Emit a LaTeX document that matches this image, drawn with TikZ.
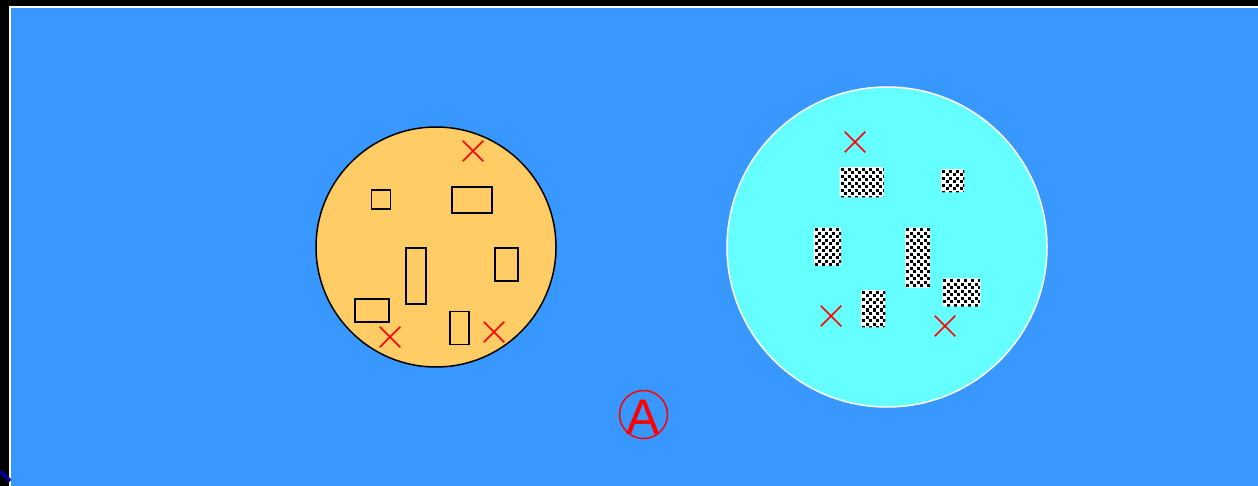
\documentclass[tikz,border=0pt]{standalone}
\usepackage{fontspec}
\setmainfont{Liberation Sans}
\usetikzlibrary{shapes.misc,calc}
\definecolor{bgblue}{HTML}{3898FF}
\definecolor{orng}{HTML}{FFCC66}
\definecolor{cyanf}{HTML}{66FFFF}
\tikzset{
  blk/.style={draw=black, line width=1.8pt, inner sep=0pt, anchor=north west},
  dotbox/.style={fill=white, inner sep=0pt, anchor=north west, rounded corners=2pt},
  xmk/.style={cross out, draw=red, line width=1.5pt, minimum size=19pt, inner sep=0pt},
}
\newcommand{\mydots}[1]{%
  \begin{scope}
  \clip[rounded corners=2pt] (#1.north west) rectangle (#1.south east);
  \foreach \i in {0,...,9}{\foreach \j in {0,...,10}{
    \fill[black] ($(#1.north west)+(\i*7+1,\j*7+1)$) rectangle +(3,3);
    \fill[black] ($(#1.north west)+(\i*7+4.5,\j*7+4.5)$) rectangle +(3,3);
  }}
  \end{scope}}
\begin{document}
\begin{tikzpicture}[x=1pt,y=-1pt]
\useasboundingbox (0,0) rectangle (1258,486);
\fill[black] (0,0) rectangle (1258,486);
\fill[white] (9,6) rectangle (1258,486);
\fill[bgblue] (11,8) rectangle (1258,486);
\draw[blue!55!black, line width=4pt] (0,471) -- (10,481);
% orange circle
\node[circle, draw=black, line width=1.5pt, fill=orng, minimum size=240pt, inner sep=0pt] (oc) at (436,247) {};
\node[blk, minimum width=19pt, minimum height=19pt] (o1) at (370.5,189.5) {};
\node[blk, minimum width=40pt, minimum height=26pt] (o2) at (451,186) {};
\node[blk, minimum width=20pt, minimum height=56pt] (o3) at (405,247.5) {};
\node[blk, minimum width=23pt, minimum height=33pt] (o4) at (494,247.5) {};
\node[blk, minimum width=34pt, minimum height=23pt] (o5) at (354,298) {};
\node[blk, minimum width=19pt, minimum height=33pt] (o6) at (449,310.5) {};
\node[xmk] (ox1) at (473,151) {};
\node[xmk] (ox2) at (390,337) {};
\node[xmk] (ox3) at (494,332) {};
% cyan circle
\node[circle, draw=white, line width=1.5pt, fill=cyanf, minimum size=320pt, inner sep=0pt] (cc) at (887,247) {};
\node[dotbox, minimum width=44pt, minimum height=30pt] (c1) at (839.5,167) {};
\node[dotbox, minimum width=23pt, minimum height=23pt] (c2) at (941,169) {};
\node[dotbox, minimum width=27pt, minimum height=38pt] (c3) at (813.7,227.5) {};
\node[dotbox, minimum width=25pt, minimum height=60pt] (c4) at (905,227.5) {};
\node[dotbox, minimum width=38pt, minimum height=28pt] (c5) at (942.3,278.3) {};
\node[dotbox, minimum width=24pt, minimum height=37pt] (c6) at (861,290) {};
\mydots{c1}\mydots{c2}\mydots{c3}\mydots{c4}\mydots{c5}\mydots{c6}
\node[xmk] (cx1) at (855,142) {};
\node[xmk] (cx2) at (831,316) {};
\node[xmk] (cx3) at (945,326) {};
% circled A
\node[circle, draw=red, line width=1.5pt, minimum size=48pt, inner sep=0pt] (ca) at (643.5,414.5) {};
\node[text=red, font=\fontsize{50}{50}\selectfont, inner sep=0pt] (A) at (643.5,417) {A};
\end{tikzpicture}
\end{document}
